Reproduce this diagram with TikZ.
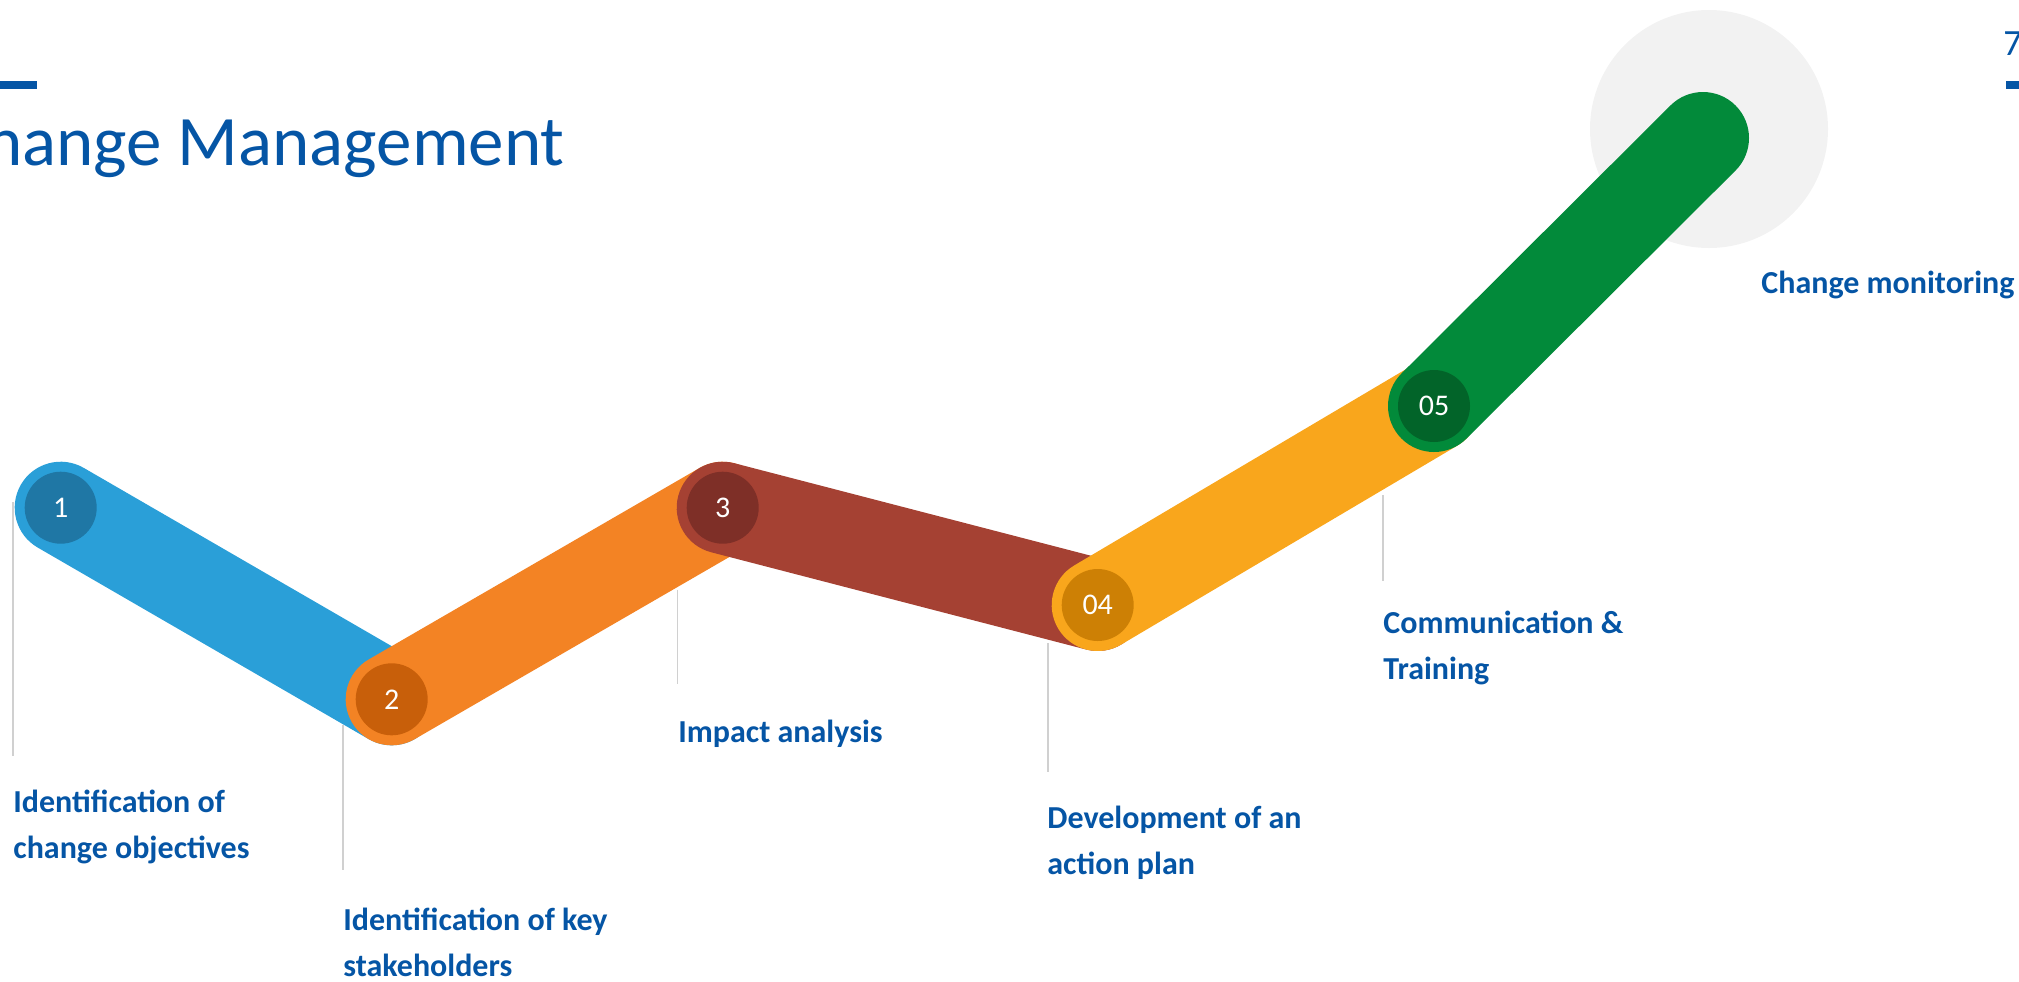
\documentclass[tikz,border=0pt]{standalone}
\usepackage{fontspec}
\setmainfont{Carlito}
\definecolor{txtblue}{HTML}{0555A5}
\definecolor{cBlue}{HTML}{2A9FD8}\definecolor{dBlue}{HTML}{1F77A5}
\definecolor{cOrange}{HTML}{F38324}\definecolor{dOrange}{HTML}{C85F0A}
\definecolor{cBrown}{HTML}{A54133}\definecolor{dBrown}{HTML}{7E2F27}
\definecolor{cYellow}{HTML}{F9A61C}\definecolor{dYellow}{HTML}{CD8005}
\definecolor{cGreen}{HTML}{028A3A}\definecolor{dGreen}{HTML}{026429}
\definecolor{ringgray}{HTML}{F2F2F2}
\definecolor{tickgray}{HTML}{D0D0D0}
\begin{document}
\begin{tikzpicture}[x=0.5pt,y=-0.5pt,
  band/.style={line width=46pt,line cap=round},
  stepdot/.style={circle,minimum size=36pt,inner sep=0pt,text=white,font=\fontsize{15}{16}\selectfont},
  tick/.style={draw=tickgray,line width=0.8pt},
  lbl/.style={anchor=base west,inner sep=0pt,align=left,text=txtblue,font=\bfseries\fontsize{16}{23}\selectfont}]
\useasboundingbox (0,0) rectangle (2019,981);
\clip (0,0) rectangle (2019,981);
% title
\fill[txtblue] (0,81) rectangle (37,89);
\node[anchor=base east,inner sep=0pt,text=txtblue,font=\fontsize{35.5}{40}\selectfont] (title) at (565,165) {Change Management};
\fill[txtblue] (2006,81) rectangle (2019,89);
\node[anchor=base west,inner sep=0pt,text=txtblue,font=\fontsize{18.5}{20}\selectfont] (page) at (2003,55) {7};
% points
\coordinate (p1) at (60.7,507.7);
\coordinate (p2) at (391.7,699.3);
\coordinate (p3) at (722.7,507.7);
\coordinate (p4) at (1097.7,605);
\coordinate (p5) at (1434,406);
\coordinate (p6) at (1703,138);
% gray disc
\fill[ringgray] (1709,129) circle[radius=59.5pt];
% ticks
\draw[tick] (12.7,502) -- (12.7,756);
\draw[tick] (342.7,725) -- (342.7,870);
\draw[tick] (677.3,590) -- (677.3,684);
\draw[tick] (1047.7,643) -- (1047.7,772);
\draw[tick] (1382.7,495) -- (1382.7,581);
% bands
\draw[band,cBlue] (p1) -- (p2);
\draw[band,cOrange] (p2) -- (p3);
\draw[band,cBrown] (p3) -- (p4);
\draw[band,cYellow] (p4) -- (p5);
\draw[band,cGreen] (p5) -- (p6);
% dots
\node[stepdot,fill=dBlue] (c1) at (p1) {1};
\node[stepdot,fill=dOrange] (c2) at (p2) {2};
\node[stepdot,fill=dBrown] (c3) at (p3) {3};
\node[stepdot,fill=dYellow] (c4) at (p4) {04};
\node[stepdot,fill=dGreen] (c5) at (p5) {05};
% labels (base = baseline of last line)
\node[lbl] (l1) at (13,858) {Identification of\\change objectives};
\node[lbl] (l2) at (343,976) {Identification of key\\stakeholders};
\node[lbl] (l3) at (678,742) {Impact analysis};
\node[lbl] (l4) at (1047,874) {Development of an\\action plan};
\node[lbl] (l5) at (1383,679) {Communication \&\\Training};
\node[lbl] (l6) at (1761,293) {Change monitoring};
\end{tikzpicture}
\end{document}
